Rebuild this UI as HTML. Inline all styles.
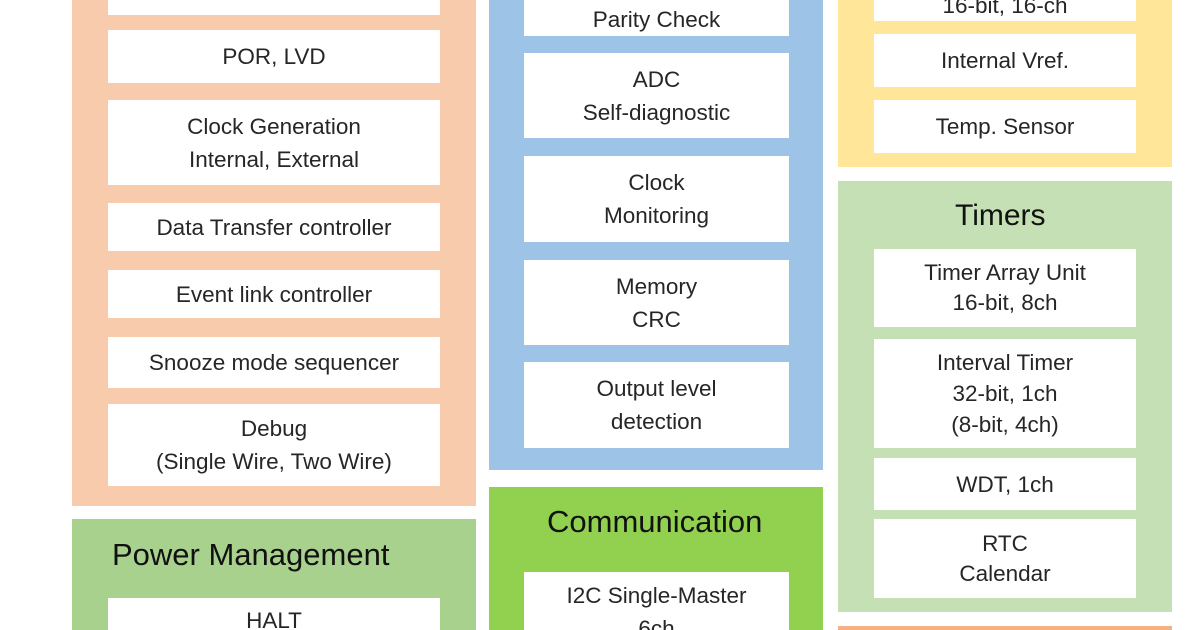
<!DOCTYPE html>
<html><head><style>
html,body{margin:0;width:1200px;height:630px;overflow:hidden}
body{background:#fff;position:relative;font-family:"Liberation Sans",sans-serif;color:#222}
.p{position:absolute}
.b{position:absolute;background:#fff;display:flex;align-items:center;justify-content:center;text-align:center;font-size:22.5px;line-height:33px;color:#262626;white-space:nowrap}
.t{position:absolute;font-size:31px;color:#111;white-space:nowrap}
</style></head><body>
<div class="p" style="left:72px;top:0;width:404px;height:506px;background:#f8cbad"></div>
<div class="b" style="left:108px;top:0;width:332px;height:15px"></div>
<div class="b" style="left:108px;top:30px;width:332px;height:53px">POR, LVD</div>
<div class="b" style="left:108px;top:100px;width:332px;height:85px">Clock Generation<br>Internal, External</div>
<div class="b" style="left:108px;top:203px;width:332px;height:48px">Data Transfer controller</div>
<div class="b" style="left:108px;top:270px;width:332px;height:48px">Event link controller</div>
<div class="b" style="left:108px;top:337px;width:332px;height:51px">Snooze mode sequencer</div>
<div class="b" style="left:108px;top:404px;width:332px;height:82px">Debug<br>(Single Wire, Two Wire)</div>

<div class="p" style="left:72px;top:519px;width:404px;height:111px;background:#a9d18e"></div>
<div class="t" style="left:112px;top:537px">Power Management</div>
<div class="b" style="left:108px;top:598px;width:332px;height:32px;align-items:flex-start;padding-top:6px;box-sizing:border-box;overflow:hidden">HALT</div>

<div class="p" style="left:489px;top:0;width:334px;height:470px;background:#9dc3e6"></div>
<div class="b" style="left:524px;top:0;width:265px;height:36px;align-items:flex-end;overflow:hidden">Parity Check</div>
<div class="b" style="left:524px;top:53px;width:265px;height:85px">ADC<br>Self-diagnostic</div>
<div class="b" style="left:524px;top:156px;width:265px;height:86px">Clock<br>Monitoring</div>
<div class="b" style="left:524px;top:260px;width:265px;height:85px">Memory<br>CRC</div>
<div class="b" style="left:524px;top:362px;width:265px;height:86px">Output level<br>detection</div>

<div class="p" style="left:489px;top:487px;width:334px;height:143px;background:#92d050"></div>
<div class="t" style="left:547px;top:504px">Communication</div>
<div class="b" style="left:524px;top:572px;width:265px;height:58px;align-items:flex-start;padding-top:7px;box-sizing:border-box;overflow:hidden">I2C Single-Master<br>6ch</div>

<div class="p" style="left:838px;top:0;width:334px;height:167px;background:#ffe699"></div>
<div class="b" style="left:874px;top:0;width:262px;height:21px;align-items:flex-end;overflow:hidden;line-height:30px">16-bit, 16-ch</div>
<div class="b" style="left:874px;top:34px;width:262px;height:53px">Internal Vref.</div>
<div class="b" style="left:874px;top:100px;width:262px;height:53px">Temp. Sensor</div>

<div class="p" style="left:838px;top:181px;width:334px;height:431px;background:#c5e0b4"></div>
<div class="t" style="left:955px;top:199px;font-size:30px">Timers</div>
<div class="b" style="left:874px;top:249px;width:262px;height:78px;line-height:30px">Timer Array Unit<br>16-bit, 8ch</div>
<div class="b" style="left:874px;top:339px;width:262px;height:109px;line-height:31px">Interval Timer<br>32-bit, 1ch<br>(8-bit, 4ch)</div>
<div class="b" style="left:874px;top:458px;width:262px;height:52px">WDT, 1ch</div>
<div class="b" style="left:874px;top:519px;width:262px;height:79px;line-height:30px">RTC<br>Calendar</div>

<div class="p" style="left:838px;top:626px;width:334px;height:4px;background:#f4b183"></div>
</body></html>
